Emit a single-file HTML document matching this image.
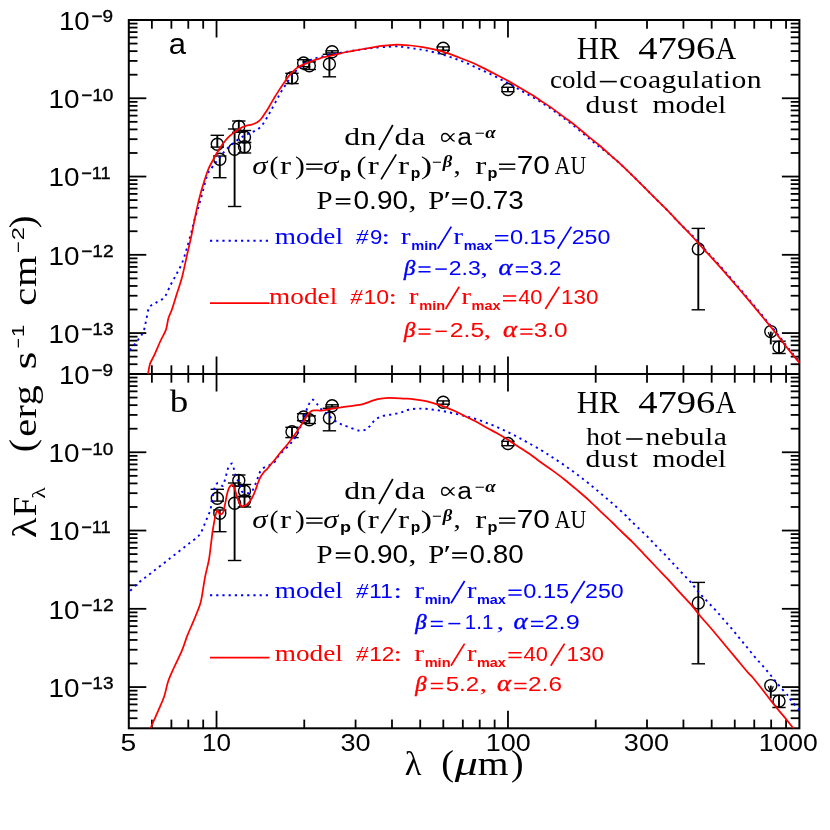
<!DOCTYPE html>
<html><head><meta charset="utf-8"><title>HR 4796A SED</title>
<style>
html,body{margin:0;padding:0;background:#fff;}
body{width:830px;height:830px;overflow:hidden;}
svg{display:block;will-change:transform;}
text{font-family:"Liberation Serif",serif;}
.s{font-family:"Liberation Sans",sans-serif;}
.i{font-style:italic;}
.m{font-family:"Liberation Mono",monospace;}
.b{fill:#0000ff;}
.r{fill:#ff0000;}
</style></head><body>
<svg width="830" height="830" viewBox="0 0 830 830">
<rect width="830" height="830" fill="#fff"/>
<g fill="none" stroke-linecap="butt">
<clipPath id="ca"><rect x="128.8" y="20.0" width="670.6" height="354.0"/></clipPath>
<clipPath id="cb"><rect x="128.8" y="374.0" width="670.6" height="354.3"/></clipPath>
<rect x="128.8" y="20.0" width="670.6" height="708.3" stroke="#000" stroke-width="2"/>
<line x1="128.80" y1="374.00" x2="799.40" y2="374.00" stroke="#000" stroke-width="2.00"/>
<line x1="151.88" y1="20.00" x2="151.88" y2="28.70" stroke="#000" stroke-width="1.80"/>
<line x1="151.88" y1="365.30" x2="151.88" y2="382.70" stroke="#000" stroke-width="1.80"/>
<line x1="151.88" y1="719.60" x2="151.88" y2="728.30" stroke="#000" stroke-width="1.80"/>
<line x1="171.39" y1="20.00" x2="171.39" y2="28.70" stroke="#000" stroke-width="1.80"/>
<line x1="171.39" y1="365.30" x2="171.39" y2="382.70" stroke="#000" stroke-width="1.80"/>
<line x1="171.39" y1="719.60" x2="171.39" y2="728.30" stroke="#000" stroke-width="1.80"/>
<line x1="188.29" y1="20.00" x2="188.29" y2="28.70" stroke="#000" stroke-width="1.80"/>
<line x1="188.29" y1="365.30" x2="188.29" y2="382.70" stroke="#000" stroke-width="1.80"/>
<line x1="188.29" y1="719.60" x2="188.29" y2="728.30" stroke="#000" stroke-width="1.80"/>
<line x1="203.20" y1="20.00" x2="203.20" y2="28.70" stroke="#000" stroke-width="1.80"/>
<line x1="203.20" y1="365.30" x2="203.20" y2="382.70" stroke="#000" stroke-width="1.80"/>
<line x1="203.20" y1="719.60" x2="203.20" y2="728.30" stroke="#000" stroke-width="1.80"/>
<line x1="216.53" y1="20.00" x2="216.53" y2="37.50" stroke="#000" stroke-width="1.80"/>
<line x1="216.53" y1="356.50" x2="216.53" y2="391.50" stroke="#000" stroke-width="1.80"/>
<line x1="216.53" y1="710.80" x2="216.53" y2="728.30" stroke="#000" stroke-width="1.80"/>
<line x1="304.26" y1="20.00" x2="304.26" y2="28.70" stroke="#000" stroke-width="1.80"/>
<line x1="304.26" y1="365.30" x2="304.26" y2="382.70" stroke="#000" stroke-width="1.80"/>
<line x1="304.26" y1="719.60" x2="304.26" y2="728.30" stroke="#000" stroke-width="1.80"/>
<line x1="355.58" y1="20.00" x2="355.58" y2="28.70" stroke="#000" stroke-width="1.80"/>
<line x1="355.58" y1="365.30" x2="355.58" y2="382.70" stroke="#000" stroke-width="1.80"/>
<line x1="355.58" y1="719.60" x2="355.58" y2="728.30" stroke="#000" stroke-width="1.80"/>
<line x1="391.99" y1="20.00" x2="391.99" y2="28.70" stroke="#000" stroke-width="1.80"/>
<line x1="391.99" y1="365.30" x2="391.99" y2="382.70" stroke="#000" stroke-width="1.80"/>
<line x1="391.99" y1="719.60" x2="391.99" y2="728.30" stroke="#000" stroke-width="1.80"/>
<line x1="420.23" y1="20.00" x2="420.23" y2="28.70" stroke="#000" stroke-width="1.80"/>
<line x1="420.23" y1="365.30" x2="420.23" y2="382.70" stroke="#000" stroke-width="1.80"/>
<line x1="420.23" y1="719.60" x2="420.23" y2="728.30" stroke="#000" stroke-width="1.80"/>
<line x1="443.31" y1="20.00" x2="443.31" y2="28.70" stroke="#000" stroke-width="1.80"/>
<line x1="443.31" y1="365.30" x2="443.31" y2="382.70" stroke="#000" stroke-width="1.80"/>
<line x1="443.31" y1="719.60" x2="443.31" y2="728.30" stroke="#000" stroke-width="1.80"/>
<line x1="462.82" y1="20.00" x2="462.82" y2="28.70" stroke="#000" stroke-width="1.80"/>
<line x1="462.82" y1="365.30" x2="462.82" y2="382.70" stroke="#000" stroke-width="1.80"/>
<line x1="462.82" y1="719.60" x2="462.82" y2="728.30" stroke="#000" stroke-width="1.80"/>
<line x1="479.72" y1="20.00" x2="479.72" y2="28.70" stroke="#000" stroke-width="1.80"/>
<line x1="479.72" y1="365.30" x2="479.72" y2="382.70" stroke="#000" stroke-width="1.80"/>
<line x1="479.72" y1="719.60" x2="479.72" y2="728.30" stroke="#000" stroke-width="1.80"/>
<line x1="494.63" y1="20.00" x2="494.63" y2="28.70" stroke="#000" stroke-width="1.80"/>
<line x1="494.63" y1="365.30" x2="494.63" y2="382.70" stroke="#000" stroke-width="1.80"/>
<line x1="494.63" y1="719.60" x2="494.63" y2="728.30" stroke="#000" stroke-width="1.80"/>
<line x1="507.97" y1="20.00" x2="507.97" y2="37.50" stroke="#000" stroke-width="1.80"/>
<line x1="507.97" y1="356.50" x2="507.97" y2="391.50" stroke="#000" stroke-width="1.80"/>
<line x1="507.97" y1="710.80" x2="507.97" y2="728.30" stroke="#000" stroke-width="1.80"/>
<line x1="595.70" y1="20.00" x2="595.70" y2="28.70" stroke="#000" stroke-width="1.80"/>
<line x1="595.70" y1="365.30" x2="595.70" y2="382.70" stroke="#000" stroke-width="1.80"/>
<line x1="595.70" y1="719.60" x2="595.70" y2="728.30" stroke="#000" stroke-width="1.80"/>
<line x1="647.01" y1="20.00" x2="647.01" y2="28.70" stroke="#000" stroke-width="1.80"/>
<line x1="647.01" y1="365.30" x2="647.01" y2="382.70" stroke="#000" stroke-width="1.80"/>
<line x1="647.01" y1="719.60" x2="647.01" y2="728.30" stroke="#000" stroke-width="1.80"/>
<line x1="683.43" y1="20.00" x2="683.43" y2="28.70" stroke="#000" stroke-width="1.80"/>
<line x1="683.43" y1="365.30" x2="683.43" y2="382.70" stroke="#000" stroke-width="1.80"/>
<line x1="683.43" y1="719.60" x2="683.43" y2="728.30" stroke="#000" stroke-width="1.80"/>
<line x1="711.67" y1="20.00" x2="711.67" y2="28.70" stroke="#000" stroke-width="1.80"/>
<line x1="711.67" y1="365.30" x2="711.67" y2="382.70" stroke="#000" stroke-width="1.80"/>
<line x1="711.67" y1="719.60" x2="711.67" y2="728.30" stroke="#000" stroke-width="1.80"/>
<line x1="734.75" y1="20.00" x2="734.75" y2="28.70" stroke="#000" stroke-width="1.80"/>
<line x1="734.75" y1="365.30" x2="734.75" y2="382.70" stroke="#000" stroke-width="1.80"/>
<line x1="734.75" y1="719.60" x2="734.75" y2="728.30" stroke="#000" stroke-width="1.80"/>
<line x1="754.26" y1="20.00" x2="754.26" y2="28.70" stroke="#000" stroke-width="1.80"/>
<line x1="754.26" y1="365.30" x2="754.26" y2="382.70" stroke="#000" stroke-width="1.80"/>
<line x1="754.26" y1="719.60" x2="754.26" y2="728.30" stroke="#000" stroke-width="1.80"/>
<line x1="771.16" y1="20.00" x2="771.16" y2="28.70" stroke="#000" stroke-width="1.80"/>
<line x1="771.16" y1="365.30" x2="771.16" y2="382.70" stroke="#000" stroke-width="1.80"/>
<line x1="771.16" y1="719.60" x2="771.16" y2="728.30" stroke="#000" stroke-width="1.80"/>
<line x1="786.06" y1="20.00" x2="786.06" y2="28.70" stroke="#000" stroke-width="1.80"/>
<line x1="786.06" y1="365.30" x2="786.06" y2="382.70" stroke="#000" stroke-width="1.80"/>
<line x1="786.06" y1="719.60" x2="786.06" y2="728.30" stroke="#000" stroke-width="1.80"/>
<line x1="128.80" y1="364.22" x2="137.50" y2="364.22" stroke="#000" stroke-width="1.80"/>
<line x1="790.70" y1="364.22" x2="799.40" y2="364.22" stroke="#000" stroke-width="1.80"/>
<line x1="128.80" y1="356.64" x2="137.50" y2="356.64" stroke="#000" stroke-width="1.80"/>
<line x1="790.70" y1="356.64" x2="799.40" y2="356.64" stroke="#000" stroke-width="1.80"/>
<line x1="128.80" y1="350.44" x2="137.50" y2="350.44" stroke="#000" stroke-width="1.80"/>
<line x1="790.70" y1="350.44" x2="799.40" y2="350.44" stroke="#000" stroke-width="1.80"/>
<line x1="128.80" y1="345.20" x2="137.50" y2="345.20" stroke="#000" stroke-width="1.80"/>
<line x1="790.70" y1="345.20" x2="799.40" y2="345.20" stroke="#000" stroke-width="1.80"/>
<line x1="128.80" y1="340.66" x2="137.50" y2="340.66" stroke="#000" stroke-width="1.80"/>
<line x1="790.70" y1="340.66" x2="799.40" y2="340.66" stroke="#000" stroke-width="1.80"/>
<line x1="128.80" y1="336.66" x2="137.50" y2="336.66" stroke="#000" stroke-width="1.80"/>
<line x1="790.70" y1="336.66" x2="799.40" y2="336.66" stroke="#000" stroke-width="1.80"/>
<line x1="128.80" y1="333.07" x2="146.30" y2="333.07" stroke="#000" stroke-width="1.80"/>
<line x1="781.90" y1="333.07" x2="799.40" y2="333.07" stroke="#000" stroke-width="1.80"/>
<line x1="128.80" y1="309.51" x2="137.50" y2="309.51" stroke="#000" stroke-width="1.80"/>
<line x1="790.70" y1="309.51" x2="799.40" y2="309.51" stroke="#000" stroke-width="1.80"/>
<line x1="128.80" y1="295.73" x2="137.50" y2="295.73" stroke="#000" stroke-width="1.80"/>
<line x1="790.70" y1="295.73" x2="799.40" y2="295.73" stroke="#000" stroke-width="1.80"/>
<line x1="128.80" y1="285.95" x2="137.50" y2="285.95" stroke="#000" stroke-width="1.80"/>
<line x1="790.70" y1="285.95" x2="799.40" y2="285.95" stroke="#000" stroke-width="1.80"/>
<line x1="128.80" y1="278.37" x2="137.50" y2="278.37" stroke="#000" stroke-width="1.80"/>
<line x1="790.70" y1="278.37" x2="799.40" y2="278.37" stroke="#000" stroke-width="1.80"/>
<line x1="128.80" y1="272.17" x2="137.50" y2="272.17" stroke="#000" stroke-width="1.80"/>
<line x1="790.70" y1="272.17" x2="799.40" y2="272.17" stroke="#000" stroke-width="1.80"/>
<line x1="128.80" y1="266.93" x2="137.50" y2="266.93" stroke="#000" stroke-width="1.80"/>
<line x1="790.70" y1="266.93" x2="799.40" y2="266.93" stroke="#000" stroke-width="1.80"/>
<line x1="128.80" y1="262.39" x2="137.50" y2="262.39" stroke="#000" stroke-width="1.80"/>
<line x1="790.70" y1="262.39" x2="799.40" y2="262.39" stroke="#000" stroke-width="1.80"/>
<line x1="128.80" y1="258.39" x2="137.50" y2="258.39" stroke="#000" stroke-width="1.80"/>
<line x1="790.70" y1="258.39" x2="799.40" y2="258.39" stroke="#000" stroke-width="1.80"/>
<line x1="128.80" y1="254.81" x2="146.30" y2="254.81" stroke="#000" stroke-width="1.80"/>
<line x1="781.90" y1="254.81" x2="799.40" y2="254.81" stroke="#000" stroke-width="1.80"/>
<line x1="128.80" y1="231.24" x2="137.50" y2="231.24" stroke="#000" stroke-width="1.80"/>
<line x1="790.70" y1="231.24" x2="799.40" y2="231.24" stroke="#000" stroke-width="1.80"/>
<line x1="128.80" y1="217.46" x2="137.50" y2="217.46" stroke="#000" stroke-width="1.80"/>
<line x1="790.70" y1="217.46" x2="799.40" y2="217.46" stroke="#000" stroke-width="1.80"/>
<line x1="128.80" y1="207.68" x2="137.50" y2="207.68" stroke="#000" stroke-width="1.80"/>
<line x1="790.70" y1="207.68" x2="799.40" y2="207.68" stroke="#000" stroke-width="1.80"/>
<line x1="128.80" y1="200.10" x2="137.50" y2="200.10" stroke="#000" stroke-width="1.80"/>
<line x1="790.70" y1="200.10" x2="799.40" y2="200.10" stroke="#000" stroke-width="1.80"/>
<line x1="128.80" y1="193.90" x2="137.50" y2="193.90" stroke="#000" stroke-width="1.80"/>
<line x1="790.70" y1="193.90" x2="799.40" y2="193.90" stroke="#000" stroke-width="1.80"/>
<line x1="128.80" y1="188.66" x2="137.50" y2="188.66" stroke="#000" stroke-width="1.80"/>
<line x1="790.70" y1="188.66" x2="799.40" y2="188.66" stroke="#000" stroke-width="1.80"/>
<line x1="128.80" y1="184.12" x2="137.50" y2="184.12" stroke="#000" stroke-width="1.80"/>
<line x1="790.70" y1="184.12" x2="799.40" y2="184.12" stroke="#000" stroke-width="1.80"/>
<line x1="128.80" y1="180.12" x2="137.50" y2="180.12" stroke="#000" stroke-width="1.80"/>
<line x1="790.70" y1="180.12" x2="799.40" y2="180.12" stroke="#000" stroke-width="1.80"/>
<line x1="128.80" y1="176.54" x2="146.30" y2="176.54" stroke="#000" stroke-width="1.80"/>
<line x1="781.90" y1="176.54" x2="799.40" y2="176.54" stroke="#000" stroke-width="1.80"/>
<line x1="128.80" y1="152.98" x2="137.50" y2="152.98" stroke="#000" stroke-width="1.80"/>
<line x1="790.70" y1="152.98" x2="799.40" y2="152.98" stroke="#000" stroke-width="1.80"/>
<line x1="128.80" y1="139.19" x2="137.50" y2="139.19" stroke="#000" stroke-width="1.80"/>
<line x1="790.70" y1="139.19" x2="799.40" y2="139.19" stroke="#000" stroke-width="1.80"/>
<line x1="128.80" y1="129.41" x2="137.50" y2="129.41" stroke="#000" stroke-width="1.80"/>
<line x1="790.70" y1="129.41" x2="799.40" y2="129.41" stroke="#000" stroke-width="1.80"/>
<line x1="128.80" y1="121.83" x2="137.50" y2="121.83" stroke="#000" stroke-width="1.80"/>
<line x1="790.70" y1="121.83" x2="799.40" y2="121.83" stroke="#000" stroke-width="1.80"/>
<line x1="128.80" y1="115.63" x2="137.50" y2="115.63" stroke="#000" stroke-width="1.80"/>
<line x1="790.70" y1="115.63" x2="799.40" y2="115.63" stroke="#000" stroke-width="1.80"/>
<line x1="128.80" y1="110.39" x2="137.50" y2="110.39" stroke="#000" stroke-width="1.80"/>
<line x1="790.70" y1="110.39" x2="799.40" y2="110.39" stroke="#000" stroke-width="1.80"/>
<line x1="128.80" y1="105.85" x2="137.50" y2="105.85" stroke="#000" stroke-width="1.80"/>
<line x1="790.70" y1="105.85" x2="799.40" y2="105.85" stroke="#000" stroke-width="1.80"/>
<line x1="128.80" y1="101.85" x2="137.50" y2="101.85" stroke="#000" stroke-width="1.80"/>
<line x1="790.70" y1="101.85" x2="799.40" y2="101.85" stroke="#000" stroke-width="1.80"/>
<line x1="128.80" y1="98.27" x2="146.30" y2="98.27" stroke="#000" stroke-width="1.80"/>
<line x1="781.90" y1="98.27" x2="799.40" y2="98.27" stroke="#000" stroke-width="1.80"/>
<line x1="128.80" y1="74.71" x2="137.50" y2="74.71" stroke="#000" stroke-width="1.80"/>
<line x1="790.70" y1="74.71" x2="799.40" y2="74.71" stroke="#000" stroke-width="1.80"/>
<line x1="128.80" y1="60.93" x2="137.50" y2="60.93" stroke="#000" stroke-width="1.80"/>
<line x1="790.70" y1="60.93" x2="799.40" y2="60.93" stroke="#000" stroke-width="1.80"/>
<line x1="128.80" y1="51.15" x2="137.50" y2="51.15" stroke="#000" stroke-width="1.80"/>
<line x1="790.70" y1="51.15" x2="799.40" y2="51.15" stroke="#000" stroke-width="1.80"/>
<line x1="128.80" y1="43.56" x2="137.50" y2="43.56" stroke="#000" stroke-width="1.80"/>
<line x1="790.70" y1="43.56" x2="799.40" y2="43.56" stroke="#000" stroke-width="1.80"/>
<line x1="128.80" y1="37.36" x2="137.50" y2="37.36" stroke="#000" stroke-width="1.80"/>
<line x1="790.70" y1="37.36" x2="799.40" y2="37.36" stroke="#000" stroke-width="1.80"/>
<line x1="128.80" y1="32.12" x2="137.50" y2="32.12" stroke="#000" stroke-width="1.80"/>
<line x1="790.70" y1="32.12" x2="799.40" y2="32.12" stroke="#000" stroke-width="1.80"/>
<line x1="128.80" y1="27.59" x2="137.50" y2="27.59" stroke="#000" stroke-width="1.80"/>
<line x1="790.70" y1="27.59" x2="799.40" y2="27.59" stroke="#000" stroke-width="1.80"/>
<line x1="128.80" y1="23.58" x2="137.50" y2="23.58" stroke="#000" stroke-width="1.80"/>
<line x1="790.70" y1="23.58" x2="799.40" y2="23.58" stroke="#000" stroke-width="1.80"/>
<line x1="128.80" y1="718.22" x2="137.50" y2="718.22" stroke="#000" stroke-width="1.80"/>
<line x1="790.70" y1="718.22" x2="799.40" y2="718.22" stroke="#000" stroke-width="1.80"/>
<line x1="128.80" y1="710.64" x2="137.50" y2="710.64" stroke="#000" stroke-width="1.80"/>
<line x1="790.70" y1="710.64" x2="799.40" y2="710.64" stroke="#000" stroke-width="1.80"/>
<line x1="128.80" y1="704.44" x2="137.50" y2="704.44" stroke="#000" stroke-width="1.80"/>
<line x1="790.70" y1="704.44" x2="799.40" y2="704.44" stroke="#000" stroke-width="1.80"/>
<line x1="128.80" y1="699.20" x2="137.50" y2="699.20" stroke="#000" stroke-width="1.80"/>
<line x1="790.70" y1="699.20" x2="799.40" y2="699.20" stroke="#000" stroke-width="1.80"/>
<line x1="128.80" y1="694.66" x2="137.50" y2="694.66" stroke="#000" stroke-width="1.80"/>
<line x1="790.70" y1="694.66" x2="799.40" y2="694.66" stroke="#000" stroke-width="1.80"/>
<line x1="128.80" y1="690.66" x2="137.50" y2="690.66" stroke="#000" stroke-width="1.80"/>
<line x1="790.70" y1="690.66" x2="799.40" y2="690.66" stroke="#000" stroke-width="1.80"/>
<line x1="128.80" y1="687.07" x2="146.30" y2="687.07" stroke="#000" stroke-width="1.80"/>
<line x1="781.90" y1="687.07" x2="799.40" y2="687.07" stroke="#000" stroke-width="1.80"/>
<line x1="128.80" y1="663.51" x2="137.50" y2="663.51" stroke="#000" stroke-width="1.80"/>
<line x1="790.70" y1="663.51" x2="799.40" y2="663.51" stroke="#000" stroke-width="1.80"/>
<line x1="128.80" y1="649.73" x2="137.50" y2="649.73" stroke="#000" stroke-width="1.80"/>
<line x1="790.70" y1="649.73" x2="799.40" y2="649.73" stroke="#000" stroke-width="1.80"/>
<line x1="128.80" y1="639.95" x2="137.50" y2="639.95" stroke="#000" stroke-width="1.80"/>
<line x1="790.70" y1="639.95" x2="799.40" y2="639.95" stroke="#000" stroke-width="1.80"/>
<line x1="128.80" y1="632.37" x2="137.50" y2="632.37" stroke="#000" stroke-width="1.80"/>
<line x1="790.70" y1="632.37" x2="799.40" y2="632.37" stroke="#000" stroke-width="1.80"/>
<line x1="128.80" y1="626.17" x2="137.50" y2="626.17" stroke="#000" stroke-width="1.80"/>
<line x1="790.70" y1="626.17" x2="799.40" y2="626.17" stroke="#000" stroke-width="1.80"/>
<line x1="128.80" y1="620.93" x2="137.50" y2="620.93" stroke="#000" stroke-width="1.80"/>
<line x1="790.70" y1="620.93" x2="799.40" y2="620.93" stroke="#000" stroke-width="1.80"/>
<line x1="128.80" y1="616.39" x2="137.50" y2="616.39" stroke="#000" stroke-width="1.80"/>
<line x1="790.70" y1="616.39" x2="799.40" y2="616.39" stroke="#000" stroke-width="1.80"/>
<line x1="128.80" y1="612.39" x2="137.50" y2="612.39" stroke="#000" stroke-width="1.80"/>
<line x1="790.70" y1="612.39" x2="799.40" y2="612.39" stroke="#000" stroke-width="1.80"/>
<line x1="128.80" y1="608.81" x2="146.30" y2="608.81" stroke="#000" stroke-width="1.80"/>
<line x1="781.90" y1="608.81" x2="799.40" y2="608.81" stroke="#000" stroke-width="1.80"/>
<line x1="128.80" y1="585.24" x2="137.50" y2="585.24" stroke="#000" stroke-width="1.80"/>
<line x1="790.70" y1="585.24" x2="799.40" y2="585.24" stroke="#000" stroke-width="1.80"/>
<line x1="128.80" y1="571.46" x2="137.50" y2="571.46" stroke="#000" stroke-width="1.80"/>
<line x1="790.70" y1="571.46" x2="799.40" y2="571.46" stroke="#000" stroke-width="1.80"/>
<line x1="128.80" y1="561.68" x2="137.50" y2="561.68" stroke="#000" stroke-width="1.80"/>
<line x1="790.70" y1="561.68" x2="799.40" y2="561.68" stroke="#000" stroke-width="1.80"/>
<line x1="128.80" y1="554.10" x2="137.50" y2="554.10" stroke="#000" stroke-width="1.80"/>
<line x1="790.70" y1="554.10" x2="799.40" y2="554.10" stroke="#000" stroke-width="1.80"/>
<line x1="128.80" y1="547.90" x2="137.50" y2="547.90" stroke="#000" stroke-width="1.80"/>
<line x1="790.70" y1="547.90" x2="799.40" y2="547.90" stroke="#000" stroke-width="1.80"/>
<line x1="128.80" y1="542.66" x2="137.50" y2="542.66" stroke="#000" stroke-width="1.80"/>
<line x1="790.70" y1="542.66" x2="799.40" y2="542.66" stroke="#000" stroke-width="1.80"/>
<line x1="128.80" y1="538.12" x2="137.50" y2="538.12" stroke="#000" stroke-width="1.80"/>
<line x1="790.70" y1="538.12" x2="799.40" y2="538.12" stroke="#000" stroke-width="1.80"/>
<line x1="128.80" y1="534.12" x2="137.50" y2="534.12" stroke="#000" stroke-width="1.80"/>
<line x1="790.70" y1="534.12" x2="799.40" y2="534.12" stroke="#000" stroke-width="1.80"/>
<line x1="128.80" y1="530.54" x2="146.30" y2="530.54" stroke="#000" stroke-width="1.80"/>
<line x1="781.90" y1="530.54" x2="799.40" y2="530.54" stroke="#000" stroke-width="1.80"/>
<line x1="128.80" y1="506.98" x2="137.50" y2="506.98" stroke="#000" stroke-width="1.80"/>
<line x1="790.70" y1="506.98" x2="799.40" y2="506.98" stroke="#000" stroke-width="1.80"/>
<line x1="128.80" y1="493.19" x2="137.50" y2="493.19" stroke="#000" stroke-width="1.80"/>
<line x1="790.70" y1="493.19" x2="799.40" y2="493.19" stroke="#000" stroke-width="1.80"/>
<line x1="128.80" y1="483.41" x2="137.50" y2="483.41" stroke="#000" stroke-width="1.80"/>
<line x1="790.70" y1="483.41" x2="799.40" y2="483.41" stroke="#000" stroke-width="1.80"/>
<line x1="128.80" y1="475.83" x2="137.50" y2="475.83" stroke="#000" stroke-width="1.80"/>
<line x1="790.70" y1="475.83" x2="799.40" y2="475.83" stroke="#000" stroke-width="1.80"/>
<line x1="128.80" y1="469.63" x2="137.50" y2="469.63" stroke="#000" stroke-width="1.80"/>
<line x1="790.70" y1="469.63" x2="799.40" y2="469.63" stroke="#000" stroke-width="1.80"/>
<line x1="128.80" y1="464.39" x2="137.50" y2="464.39" stroke="#000" stroke-width="1.80"/>
<line x1="790.70" y1="464.39" x2="799.40" y2="464.39" stroke="#000" stroke-width="1.80"/>
<line x1="128.80" y1="459.85" x2="137.50" y2="459.85" stroke="#000" stroke-width="1.80"/>
<line x1="790.70" y1="459.85" x2="799.40" y2="459.85" stroke="#000" stroke-width="1.80"/>
<line x1="128.80" y1="455.85" x2="137.50" y2="455.85" stroke="#000" stroke-width="1.80"/>
<line x1="790.70" y1="455.85" x2="799.40" y2="455.85" stroke="#000" stroke-width="1.80"/>
<line x1="128.80" y1="452.27" x2="146.30" y2="452.27" stroke="#000" stroke-width="1.80"/>
<line x1="781.90" y1="452.27" x2="799.40" y2="452.27" stroke="#000" stroke-width="1.80"/>
<line x1="128.80" y1="428.71" x2="137.50" y2="428.71" stroke="#000" stroke-width="1.80"/>
<line x1="790.70" y1="428.71" x2="799.40" y2="428.71" stroke="#000" stroke-width="1.80"/>
<line x1="128.80" y1="414.93" x2="137.50" y2="414.93" stroke="#000" stroke-width="1.80"/>
<line x1="790.70" y1="414.93" x2="799.40" y2="414.93" stroke="#000" stroke-width="1.80"/>
<line x1="128.80" y1="405.15" x2="137.50" y2="405.15" stroke="#000" stroke-width="1.80"/>
<line x1="790.70" y1="405.15" x2="799.40" y2="405.15" stroke="#000" stroke-width="1.80"/>
<line x1="128.80" y1="397.56" x2="137.50" y2="397.56" stroke="#000" stroke-width="1.80"/>
<line x1="790.70" y1="397.56" x2="799.40" y2="397.56" stroke="#000" stroke-width="1.80"/>
<line x1="128.80" y1="391.36" x2="137.50" y2="391.36" stroke="#000" stroke-width="1.80"/>
<line x1="790.70" y1="391.36" x2="799.40" y2="391.36" stroke="#000" stroke-width="1.80"/>
<line x1="128.80" y1="386.12" x2="137.50" y2="386.12" stroke="#000" stroke-width="1.80"/>
<line x1="790.70" y1="386.12" x2="799.40" y2="386.12" stroke="#000" stroke-width="1.80"/>
<line x1="128.80" y1="381.59" x2="137.50" y2="381.59" stroke="#000" stroke-width="1.80"/>
<line x1="790.70" y1="381.59" x2="799.40" y2="381.59" stroke="#000" stroke-width="1.80"/>
<line x1="128.80" y1="377.58" x2="137.50" y2="377.58" stroke="#000" stroke-width="1.80"/>
<line x1="790.70" y1="377.58" x2="799.40" y2="377.58" stroke="#000" stroke-width="1.80"/>
<circle cx="217.3" cy="144.2" r="6.0" stroke="#000" stroke-width="1.4"/>
<line x1="217.30" y1="135.30" x2="217.30" y2="147.10" stroke="#000" stroke-width="1.90"/>
<line x1="210.60" y1="135.30" x2="224.00" y2="135.30" stroke="#000" stroke-width="1.40"/>
<line x1="210.60" y1="147.10" x2="224.00" y2="147.10" stroke="#000" stroke-width="1.40"/>
<circle cx="219.8" cy="159.3" r="6.0" stroke="#000" stroke-width="1.4"/>
<line x1="219.80" y1="156.00" x2="219.80" y2="177.70" stroke="#000" stroke-width="1.90"/>
<line x1="213.10" y1="156.00" x2="226.50" y2="156.00" stroke="#000" stroke-width="1.40"/>
<line x1="213.10" y1="177.70" x2="226.50" y2="177.70" stroke="#000" stroke-width="1.40"/>
<circle cx="234.6" cy="149.2" r="6.0" stroke="#000" stroke-width="1.4"/>
<line x1="234.60" y1="129.00" x2="234.60" y2="206.50" stroke="#000" stroke-width="1.90"/>
<line x1="227.90" y1="129.00" x2="241.30" y2="129.00" stroke="#000" stroke-width="1.40"/>
<line x1="227.90" y1="206.50" x2="241.30" y2="206.50" stroke="#000" stroke-width="1.40"/>
<circle cx="238.8" cy="126.4" r="6.0" stroke="#000" stroke-width="1.4"/>
<line x1="238.80" y1="121.00" x2="238.80" y2="132.30" stroke="#000" stroke-width="1.90"/>
<line x1="232.10" y1="121.00" x2="245.50" y2="121.00" stroke="#000" stroke-width="1.40"/>
<line x1="232.10" y1="132.30" x2="245.50" y2="132.30" stroke="#000" stroke-width="1.40"/>
<circle cx="244.5" cy="137.0" r="6.0" stroke="#000" stroke-width="1.4"/>
<line x1="244.50" y1="130.50" x2="244.50" y2="142.50" stroke="#000" stroke-width="1.90"/>
<line x1="237.80" y1="130.50" x2="251.20" y2="130.50" stroke="#000" stroke-width="1.40"/>
<line x1="237.80" y1="142.50" x2="251.20" y2="142.50" stroke="#000" stroke-width="1.40"/>
<circle cx="244.5" cy="146.7" r="6.0" stroke="#000" stroke-width="1.4"/>
<line x1="244.50" y1="142.50" x2="244.50" y2="153.00" stroke="#000" stroke-width="1.90"/>
<line x1="237.80" y1="142.50" x2="251.20" y2="142.50" stroke="#000" stroke-width="1.40"/>
<line x1="237.80" y1="153.00" x2="251.20" y2="153.00" stroke="#000" stroke-width="1.40"/>
<circle cx="292.0" cy="77.8" r="6.0" stroke="#000" stroke-width="1.4"/>
<line x1="292.00" y1="73.30" x2="292.00" y2="83.60" stroke="#000" stroke-width="1.90"/>
<line x1="285.30" y1="73.30" x2="298.70" y2="73.30" stroke="#000" stroke-width="1.40"/>
<line x1="285.30" y1="83.60" x2="298.70" y2="83.60" stroke="#000" stroke-width="1.40"/>
<circle cx="303.6" cy="63.0" r="6.0" stroke="#000" stroke-width="1.4"/>
<line x1="303.60" y1="59.70" x2="303.60" y2="66.70" stroke="#000" stroke-width="1.90"/>
<line x1="296.90" y1="59.70" x2="310.30" y2="59.70" stroke="#000" stroke-width="1.40"/>
<line x1="296.90" y1="66.70" x2="310.30" y2="66.70" stroke="#000" stroke-width="1.40"/>
<circle cx="309.3" cy="65.7" r="6.0" stroke="#000" stroke-width="1.4"/>
<line x1="309.30" y1="61.90" x2="309.30" y2="69.50" stroke="#000" stroke-width="1.90"/>
<line x1="302.60" y1="61.90" x2="316.00" y2="61.90" stroke="#000" stroke-width="1.40"/>
<line x1="302.60" y1="69.50" x2="316.00" y2="69.50" stroke="#000" stroke-width="1.40"/>
<circle cx="332.1" cy="51.7" r="6.0" stroke="#000" stroke-width="1.4"/>
<line x1="332.10" y1="50.80" x2="332.10" y2="52.90" stroke="#000" stroke-width="1.90"/>
<line x1="325.40" y1="50.80" x2="338.80" y2="50.80" stroke="#000" stroke-width="1.40"/>
<line x1="325.40" y1="52.90" x2="338.80" y2="52.90" stroke="#000" stroke-width="1.40"/>
<circle cx="329.4" cy="64.0" r="6.0" stroke="#000" stroke-width="1.4"/>
<line x1="329.40" y1="54.30" x2="329.40" y2="76.80" stroke="#000" stroke-width="1.90"/>
<line x1="322.70" y1="54.30" x2="336.10" y2="54.30" stroke="#000" stroke-width="1.40"/>
<line x1="322.70" y1="76.80" x2="336.10" y2="76.80" stroke="#000" stroke-width="1.40"/>
<circle cx="443.2" cy="48.2" r="6.0" stroke="#000" stroke-width="1.4"/>
<line x1="443.20" y1="46.90" x2="443.20" y2="50.20" stroke="#000" stroke-width="1.90"/>
<line x1="436.50" y1="46.90" x2="449.90" y2="46.90" stroke="#000" stroke-width="1.40"/>
<line x1="436.50" y1="50.20" x2="449.90" y2="50.20" stroke="#000" stroke-width="1.40"/>
<circle cx="507.9" cy="89.5" r="6.0" stroke="#000" stroke-width="1.4"/>
<line x1="507.90" y1="87.30" x2="507.90" y2="91.70" stroke="#000" stroke-width="1.90"/>
<line x1="501.20" y1="87.30" x2="514.60" y2="87.30" stroke="#000" stroke-width="1.40"/>
<line x1="501.20" y1="91.70" x2="514.60" y2="91.70" stroke="#000" stroke-width="1.40"/>
<circle cx="698.3" cy="248.9" r="6.0" stroke="#000" stroke-width="1.4"/>
<line x1="698.30" y1="228.40" x2="698.30" y2="309.80" stroke="#000" stroke-width="1.90"/>
<line x1="691.60" y1="228.40" x2="705.00" y2="228.40" stroke="#000" stroke-width="1.40"/>
<line x1="691.60" y1="309.80" x2="705.00" y2="309.80" stroke="#000" stroke-width="1.40"/>
<circle cx="770.8" cy="331.6" r="6.0" stroke="#000" stroke-width="1.4"/>
<circle cx="779.0" cy="347.1" r="6.0" stroke="#000" stroke-width="1.4"/>
<line x1="779.00" y1="341.20" x2="779.00" y2="353.50" stroke="#000" stroke-width="1.90"/>
<line x1="772.30" y1="341.20" x2="785.70" y2="341.20" stroke="#000" stroke-width="1.40"/>
<line x1="772.30" y1="353.50" x2="785.70" y2="353.50" stroke="#000" stroke-width="1.40"/>
<line x1="770.80" y1="331.60" x2="770.80" y2="344.40" stroke="#000" stroke-width="1.90"/>
<line x1="770.80" y1="338.60" x2="768.30" y2="332.20" stroke="#000" stroke-width="1.20"/>
<line x1="770.80" y1="338.60" x2="773.30" y2="332.20" stroke="#000" stroke-width="1.20"/>
<circle cx="217.3" cy="498.2" r="6.0" stroke="#000" stroke-width="1.4"/>
<line x1="217.30" y1="489.30" x2="217.30" y2="501.10" stroke="#000" stroke-width="1.90"/>
<line x1="210.60" y1="489.30" x2="224.00" y2="489.30" stroke="#000" stroke-width="1.40"/>
<line x1="210.60" y1="501.10" x2="224.00" y2="501.10" stroke="#000" stroke-width="1.40"/>
<circle cx="219.8" cy="513.3" r="6.0" stroke="#000" stroke-width="1.4"/>
<line x1="219.80" y1="510.00" x2="219.80" y2="531.70" stroke="#000" stroke-width="1.90"/>
<line x1="213.10" y1="510.00" x2="226.50" y2="510.00" stroke="#000" stroke-width="1.40"/>
<line x1="213.10" y1="531.70" x2="226.50" y2="531.70" stroke="#000" stroke-width="1.40"/>
<circle cx="234.6" cy="503.2" r="6.0" stroke="#000" stroke-width="1.4"/>
<line x1="234.60" y1="483.00" x2="234.60" y2="560.50" stroke="#000" stroke-width="1.90"/>
<line x1="227.90" y1="483.00" x2="241.30" y2="483.00" stroke="#000" stroke-width="1.40"/>
<line x1="227.90" y1="560.50" x2="241.30" y2="560.50" stroke="#000" stroke-width="1.40"/>
<circle cx="238.8" cy="480.4" r="6.0" stroke="#000" stroke-width="1.4"/>
<line x1="238.80" y1="475.00" x2="238.80" y2="486.30" stroke="#000" stroke-width="1.90"/>
<line x1="232.10" y1="475.00" x2="245.50" y2="475.00" stroke="#000" stroke-width="1.40"/>
<line x1="232.10" y1="486.30" x2="245.50" y2="486.30" stroke="#000" stroke-width="1.40"/>
<circle cx="244.5" cy="491.0" r="6.0" stroke="#000" stroke-width="1.4"/>
<line x1="244.50" y1="484.50" x2="244.50" y2="496.50" stroke="#000" stroke-width="1.90"/>
<line x1="237.80" y1="484.50" x2="251.20" y2="484.50" stroke="#000" stroke-width="1.40"/>
<line x1="237.80" y1="496.50" x2="251.20" y2="496.50" stroke="#000" stroke-width="1.40"/>
<circle cx="244.5" cy="500.7" r="6.0" stroke="#000" stroke-width="1.4"/>
<line x1="244.50" y1="496.50" x2="244.50" y2="507.00" stroke="#000" stroke-width="1.90"/>
<line x1="237.80" y1="496.50" x2="251.20" y2="496.50" stroke="#000" stroke-width="1.40"/>
<line x1="237.80" y1="507.00" x2="251.20" y2="507.00" stroke="#000" stroke-width="1.40"/>
<circle cx="292.0" cy="431.8" r="6.0" stroke="#000" stroke-width="1.4"/>
<line x1="292.00" y1="427.30" x2="292.00" y2="437.60" stroke="#000" stroke-width="1.90"/>
<line x1="285.30" y1="427.30" x2="298.70" y2="427.30" stroke="#000" stroke-width="1.40"/>
<line x1="285.30" y1="437.60" x2="298.70" y2="437.60" stroke="#000" stroke-width="1.40"/>
<circle cx="303.6" cy="417.0" r="6.0" stroke="#000" stroke-width="1.4"/>
<line x1="303.60" y1="413.70" x2="303.60" y2="420.70" stroke="#000" stroke-width="1.90"/>
<line x1="296.90" y1="413.70" x2="310.30" y2="413.70" stroke="#000" stroke-width="1.40"/>
<line x1="296.90" y1="420.70" x2="310.30" y2="420.70" stroke="#000" stroke-width="1.40"/>
<circle cx="309.3" cy="419.7" r="6.0" stroke="#000" stroke-width="1.4"/>
<line x1="309.30" y1="415.90" x2="309.30" y2="423.50" stroke="#000" stroke-width="1.90"/>
<line x1="302.60" y1="415.90" x2="316.00" y2="415.90" stroke="#000" stroke-width="1.40"/>
<line x1="302.60" y1="423.50" x2="316.00" y2="423.50" stroke="#000" stroke-width="1.40"/>
<circle cx="332.1" cy="405.7" r="6.0" stroke="#000" stroke-width="1.4"/>
<line x1="332.10" y1="404.80" x2="332.10" y2="406.90" stroke="#000" stroke-width="1.90"/>
<line x1="325.40" y1="404.80" x2="338.80" y2="404.80" stroke="#000" stroke-width="1.40"/>
<line x1="325.40" y1="406.90" x2="338.80" y2="406.90" stroke="#000" stroke-width="1.40"/>
<circle cx="329.4" cy="418.0" r="6.0" stroke="#000" stroke-width="1.4"/>
<line x1="329.40" y1="408.30" x2="329.40" y2="430.80" stroke="#000" stroke-width="1.90"/>
<line x1="322.70" y1="408.30" x2="336.10" y2="408.30" stroke="#000" stroke-width="1.40"/>
<line x1="322.70" y1="430.80" x2="336.10" y2="430.80" stroke="#000" stroke-width="1.40"/>
<circle cx="443.2" cy="402.2" r="6.0" stroke="#000" stroke-width="1.4"/>
<line x1="443.20" y1="400.90" x2="443.20" y2="404.20" stroke="#000" stroke-width="1.90"/>
<line x1="436.50" y1="400.90" x2="449.90" y2="400.90" stroke="#000" stroke-width="1.40"/>
<line x1="436.50" y1="404.20" x2="449.90" y2="404.20" stroke="#000" stroke-width="1.40"/>
<circle cx="507.9" cy="443.5" r="6.0" stroke="#000" stroke-width="1.4"/>
<line x1="507.90" y1="441.30" x2="507.90" y2="445.70" stroke="#000" stroke-width="1.90"/>
<line x1="501.20" y1="441.30" x2="514.60" y2="441.30" stroke="#000" stroke-width="1.40"/>
<line x1="501.20" y1="445.70" x2="514.60" y2="445.70" stroke="#000" stroke-width="1.40"/>
<circle cx="698.3" cy="602.9" r="6.0" stroke="#000" stroke-width="1.4"/>
<line x1="698.30" y1="582.40" x2="698.30" y2="663.80" stroke="#000" stroke-width="1.90"/>
<line x1="691.60" y1="582.40" x2="705.00" y2="582.40" stroke="#000" stroke-width="1.40"/>
<line x1="691.60" y1="663.80" x2="705.00" y2="663.80" stroke="#000" stroke-width="1.40"/>
<circle cx="770.8" cy="685.6" r="6.0" stroke="#000" stroke-width="1.4"/>
<circle cx="779.0" cy="701.1" r="6.0" stroke="#000" stroke-width="1.4"/>
<line x1="779.00" y1="695.20" x2="779.00" y2="707.50" stroke="#000" stroke-width="1.90"/>
<line x1="772.30" y1="695.20" x2="785.70" y2="695.20" stroke="#000" stroke-width="1.40"/>
<line x1="772.30" y1="707.50" x2="785.70" y2="707.50" stroke="#000" stroke-width="1.40"/>
<line x1="770.80" y1="685.60" x2="770.80" y2="698.40" stroke="#000" stroke-width="1.90"/>
<line x1="770.80" y1="692.60" x2="768.30" y2="686.20" stroke="#000" stroke-width="1.20"/>
<line x1="770.80" y1="692.60" x2="773.30" y2="686.20" stroke="#000" stroke-width="1.20"/>
<g clip-path="url(#ca)">
<path d="M126.0 355.0C126.5 354.4 127.1 353.7 128.9 351.5C130.7 349.3 134.2 345.1 136.6 341.8C139.0 338.5 141.7 335.4 143.3 331.8C144.9 328.2 145.2 324.2 146.2 320.2C147.2 316.2 147.5 310.6 149.1 307.7C150.7 304.8 153.2 304.7 155.8 302.9C158.4 301.1 162.1 300.0 164.5 297.1C166.9 294.2 168.4 289.2 170.3 285.5C172.2 281.8 174.2 278.6 176.1 274.9C178.0 271.2 180.1 267.7 181.9 263.4C183.7 259.1 185.1 254.2 186.7 248.9C188.3 243.6 190.2 236.4 191.5 231.6C192.8 226.8 192.9 225.2 194.4 220.0C195.9 214.8 198.3 207.6 200.4 200.2C202.5 192.8 205.3 180.8 207.2 175.4C209.1 170.0 210.5 169.9 211.8 167.8C213.1 165.8 214.0 164.7 215.2 163.1C216.4 161.5 217.7 159.7 219.0 158.1C220.3 156.5 221.5 154.9 222.8 153.4C224.1 151.9 225.5 150.3 227.0 148.8C228.5 147.3 230.0 145.9 231.6 144.6C233.2 143.3 234.7 142.0 236.3 140.8C237.9 139.6 239.6 138.5 241.3 137.4C243.1 136.3 244.9 135.4 246.8 134.5C248.7 133.6 250.8 132.8 252.7 131.9C254.6 131.0 256.6 130.2 258.2 129.0C259.8 127.8 261.1 126.5 262.4 124.8C263.7 123.1 265.1 120.7 266.2 118.9C267.3 117.1 268.3 115.4 269.2 113.8C270.1 112.2 270.6 111.2 271.6 109.4C272.6 107.6 274.1 104.7 275.2 102.7C276.3 100.7 277.1 99.1 278.1 97.3C279.1 95.5 279.9 93.8 281.0 92.0C282.1 90.2 283.3 88.5 284.4 86.7C285.5 84.9 286.6 83.2 287.8 81.4C289.0 79.7 289.9 78.2 291.5 76.2C293.1 74.2 295.8 71.1 297.5 69.3C299.2 67.5 300.2 66.6 301.5 65.6C302.8 64.6 303.5 64.1 305.1 63.1C306.7 62.1 309.0 60.7 310.9 59.8C312.8 58.9 314.8 58.4 316.7 57.8C318.6 57.2 320.6 56.9 322.5 56.4C324.4 55.9 326.4 55.3 328.3 54.9C330.2 54.5 331.9 54.3 334.0 53.9C336.1 53.5 337.3 53.2 341.0 52.6C344.7 52.0 351.3 50.9 356.4 50.1C361.5 49.4 366.7 48.7 371.8 48.1C376.9 47.5 382.7 47.1 387.2 46.8C391.7 46.5 396.3 46.2 398.8 46.2C401.3 46.2 399.7 46.5 402.3 46.9C404.9 47.3 410.5 48.0 414.6 48.6C418.7 49.2 422.8 49.8 426.9 50.6C431.0 51.5 435.1 52.6 439.2 53.7C443.3 54.8 447.3 56.0 451.4 57.4C455.5 58.8 459.6 60.2 463.7 61.9C467.8 63.6 471.9 65.5 476.0 67.4C480.1 69.3 484.2 71.1 488.3 73.1C492.4 75.1 496.5 77.2 500.6 79.3C504.7 81.4 508.8 83.5 512.9 85.8C517.0 88.1 520.8 90.5 525.2 93.0C529.6 95.5 534.9 98.3 539.2 101.0C543.5 103.7 547.2 106.1 551.2 108.9C555.2 111.7 559.3 114.9 563.3 117.9C567.3 120.9 571.3 123.7 575.3 126.9C579.3 130.1 583.4 133.9 587.4 137.2C591.4 140.5 595.2 143.5 599.4 146.8C603.5 150.1 608.9 154.1 612.3 156.9C615.7 159.7 616.7 160.6 620.0 163.6C623.3 166.6 628.0 171.2 632.0 175.1C636.0 179.0 640.1 183.1 644.1 187.1C648.1 191.1 652.1 195.2 656.1 199.2C660.1 203.2 664.2 207.1 668.2 211.2C672.2 215.3 676.1 219.8 680.2 223.9C684.3 228.0 688.7 231.8 692.8 236.0C696.9 240.2 701.5 245.7 704.8 249.3C708.1 252.9 709.2 254.0 712.5 257.6C715.8 261.2 720.6 266.5 724.6 271.1C728.6 275.7 732.6 280.3 736.6 285.0C740.6 289.7 744.8 294.5 748.7 299.1C752.6 303.7 756.3 308.3 759.8 312.5C763.2 316.7 766.2 320.2 769.4 324.1C772.6 328.0 775.9 332.0 779.1 336.1C782.3 340.2 785.2 344.4 788.7 348.7C792.2 353.0 797.3 359.2 799.8 362.2C802.3 365.2 802.9 365.9 803.5 366.7" stroke="#0000ff" stroke-width="1.9" stroke-dasharray="2.2 4.0"/>
<path d="M147.0 378.0C147.2 377.2 147.6 375.7 148.1 373.3C148.6 370.9 149.1 366.5 150.1 363.6C151.1 360.7 152.1 359.8 153.9 355.9C155.7 352.0 158.7 344.8 160.7 340.5C162.7 336.2 164.6 333.6 165.9 329.9C167.2 326.2 167.4 321.8 168.4 318.3C169.4 314.8 170.8 312.9 172.2 308.7C173.6 304.5 175.4 298.4 177.0 293.3C178.6 288.2 180.3 283.9 181.9 277.8C183.5 271.7 185.1 263.7 186.7 256.6C188.3 249.5 190.0 242.5 191.5 235.4C193.0 228.3 194.3 220.7 195.7 214.3C197.0 207.9 198.1 202.8 199.6 197.1C201.1 191.4 203.1 184.7 204.6 180.0C206.1 175.3 207.1 172.2 208.4 169.0C209.8 165.8 211.3 163.3 212.7 160.6C214.1 157.9 215.5 155.4 216.9 153.0C218.3 150.6 219.7 148.3 221.1 146.3C222.5 144.3 223.9 142.5 225.3 140.8C226.7 139.1 228.1 137.4 229.5 136.1C230.9 134.8 232.3 133.9 233.7 132.8C235.1 131.8 236.6 130.7 238.0 129.8C239.4 128.9 240.8 128.0 242.2 127.3C243.6 126.6 245.0 126.0 246.4 125.6C247.8 125.2 249.2 125.1 250.6 124.8C252.0 124.5 253.4 124.1 254.8 123.5C256.2 122.9 257.8 121.9 259.0 121.0C260.2 120.1 260.9 119.2 261.8 118.0C262.7 116.8 263.7 115.2 264.6 113.8C265.6 112.4 266.7 110.8 267.5 109.5C268.3 108.2 268.4 108.0 269.5 106.0C270.6 104.0 272.7 100.5 274.3 97.8C275.9 95.1 277.5 92.6 279.1 90.1C280.7 87.6 282.3 85.2 283.9 82.9C285.5 80.6 287.1 78.1 288.7 76.1C290.3 74.1 292.0 72.3 293.6 70.8C295.2 69.3 296.8 68.0 298.4 67.0C300.0 66.0 301.6 65.3 303.2 64.6C304.8 63.9 306.4 63.4 308.0 62.7C309.6 62.1 311.2 61.3 312.8 60.7C314.4 60.1 316.1 59.6 317.7 59.1C319.3 58.6 320.9 58.0 322.5 57.5C324.1 57.0 325.7 56.8 327.3 56.4C328.9 56.0 328.9 56.1 332.1 55.4C335.3 54.7 342.0 53.0 346.7 52.0C351.4 51.0 355.4 50.4 360.2 49.5C365.0 48.6 371.2 47.5 375.7 46.8C380.2 46.1 383.7 45.8 387.2 45.4C390.7 45.0 393.0 44.5 396.9 44.5C400.8 44.5 406.2 45.1 410.5 45.5C414.8 45.9 418.7 46.4 422.8 47.1C426.9 47.8 431.0 48.6 435.1 49.6C439.2 50.6 443.3 51.7 447.4 53.1C451.5 54.5 455.5 56.2 459.6 57.8C463.7 59.4 467.8 60.7 471.9 62.5C476.0 64.3 480.1 66.4 484.2 68.4C488.3 70.5 492.4 72.7 496.5 74.8C500.6 76.9 504.7 79.0 508.8 81.3C512.9 83.6 517.0 86.1 521.1 88.5C525.2 90.9 530.2 93.8 533.4 95.7C536.5 97.7 536.9 98.1 540.0 100.2C543.1 102.3 548.0 105.3 552.0 108.1C556.0 110.9 560.1 114.1 564.1 117.1C568.1 120.1 572.1 122.9 576.1 126.1C580.1 129.3 584.2 133.1 588.2 136.4C592.2 139.7 596.2 142.6 600.2 146.0C604.2 149.4 609.0 154.0 612.3 156.9C615.6 159.8 616.7 160.6 620.0 163.6C623.3 166.6 628.0 171.2 632.0 175.1C636.0 179.0 640.1 183.1 644.1 187.1C648.1 191.1 652.1 195.2 656.1 199.2C660.1 203.2 664.2 207.1 668.2 211.2C672.2 215.3 676.2 219.7 680.2 223.9C684.2 228.1 688.3 232.2 692.3 236.5C696.3 240.8 701.0 246.2 704.3 249.8C707.6 253.4 708.7 254.5 712.0 258.1C715.3 261.7 720.1 267.0 724.1 271.6C728.1 276.2 732.1 280.8 736.1 285.5C740.1 290.2 744.3 295.0 748.2 299.6C752.1 304.2 755.8 308.8 759.3 313.0C762.8 317.2 765.7 320.7 768.9 324.6C772.1 328.5 775.4 332.5 778.6 336.6C781.8 340.7 784.8 344.9 788.2 349.2C791.7 353.5 796.8 359.7 799.3 362.7C801.8 365.7 802.4 366.4 803.0 367.2" stroke="#ff0000" stroke-width="1.75"/>
</g>
<g clip-path="url(#cb)">
<path d="M126.0 595.0C126.5 594.5 127.0 594.2 128.9 592.3C130.8 590.4 134.6 586.2 137.5 583.6C140.4 581.0 143.3 579.1 146.2 576.9C149.1 574.6 152.0 572.4 154.9 570.1C157.8 567.9 160.7 565.6 163.6 563.4C166.5 561.1 169.3 558.9 172.2 556.6C175.1 554.4 178.0 552.1 180.9 549.9C183.8 547.6 186.9 545.2 189.6 543.1C192.3 541.0 195.4 539.1 197.3 537.3C199.2 535.5 200.0 534.1 201.0 532.5C202.0 530.9 202.4 529.4 203.2 527.6C204.0 525.8 204.8 523.7 205.6 521.8C206.4 519.9 207.2 517.9 208.0 516.0C208.8 514.1 209.6 512.4 210.2 510.5C210.8 508.6 211.0 506.6 211.4 504.5C211.8 502.4 212.1 499.8 212.5 497.7C212.9 495.6 213.4 493.8 213.8 491.9C214.2 490.0 214.5 487.6 215.2 486.1C215.9 484.6 216.8 483.0 218.1 483.0C219.4 483.0 221.7 486.4 222.8 485.9C223.9 485.4 224.3 481.9 224.9 479.9C225.5 477.8 226.0 475.6 226.6 473.6C227.2 471.6 227.4 469.5 228.3 467.8C229.2 466.1 231.2 463.2 232.1 463.5C233.0 463.8 233.4 467.3 234.0 469.3C234.6 471.3 234.8 473.6 235.5 475.5C236.2 477.4 237.2 479.2 237.9 480.8C238.6 482.4 239.2 483.4 239.8 485.2C240.4 487.0 240.5 490.0 241.7 491.4C242.9 492.8 245.2 493.5 247.0 493.4C248.8 493.2 250.9 491.9 252.3 490.5C253.7 489.1 254.3 486.7 255.2 484.7C256.1 482.7 256.8 480.6 257.5 478.7C258.2 476.8 258.4 474.9 259.4 473.1C260.4 471.3 261.8 469.4 263.4 468.1C265.0 466.8 267.3 466.4 269.2 465.4C271.1 464.4 272.8 463.7 274.5 462.0C276.2 460.3 276.9 457.8 279.3 455.0C281.7 452.2 286.2 448.4 288.9 445.4C291.6 442.3 293.8 439.8 295.7 436.7C297.6 433.6 299.1 430.4 300.5 427.0C301.9 423.6 303.0 419.9 304.3 416.4C305.6 412.9 306.9 408.6 308.2 405.8C309.5 403.0 310.9 400.0 312.4 399.7C313.8 399.4 315.3 402.2 316.9 403.9C318.4 405.6 319.9 407.9 321.7 409.7C323.5 411.5 325.4 412.7 327.5 414.5C329.6 416.3 331.9 418.7 334.2 420.3C336.4 421.9 338.6 423.1 341.0 424.2C343.4 425.3 345.8 425.9 348.7 427.0C351.6 428.1 355.6 430.0 358.3 430.5C361.0 431.0 363.2 430.6 365.1 429.9C367.0 429.2 368.3 427.7 369.9 426.1C371.5 424.5 372.8 421.9 374.7 420.3C376.6 418.7 378.7 417.4 381.4 416.4C384.1 415.4 387.9 415.1 391.1 414.5C394.3 413.9 397.8 413.4 400.7 412.6C403.6 411.8 405.6 410.4 408.7 409.7C411.8 409.0 415.9 408.7 419.5 408.6C423.1 408.5 426.8 408.9 430.4 409.3C434.0 409.7 437.6 410.2 441.2 410.8C444.8 411.4 448.4 412.2 452.0 413.0C455.6 413.8 459.3 414.7 462.9 415.6C466.5 416.5 470.1 417.3 473.7 418.4C477.3 419.5 481.0 420.8 484.6 422.1C488.2 423.4 491.8 424.8 495.4 426.4C499.0 427.9 502.7 429.7 506.3 431.4C509.9 433.1 513.5 434.9 517.1 436.8C520.7 438.7 524.0 440.5 528.0 442.7C532.0 444.9 537.2 447.8 541.2 450.2C545.2 452.6 548.2 454.6 552.0 457.1C555.8 459.6 560.1 462.3 564.1 465.1C568.1 467.9 572.1 470.7 576.1 473.7C580.1 476.7 584.2 479.9 588.2 483.1C592.2 486.3 596.2 489.6 600.2 493.0C604.2 496.4 608.3 499.8 612.3 503.3C616.3 506.8 621.3 511.3 624.3 514.1C627.3 516.9 627.9 517.7 630.2 520.0C632.5 522.3 635.2 525.0 638.1 527.8C641.0 530.6 644.7 533.9 647.7 536.9C650.7 539.9 653.2 542.9 656.1 545.9C659.0 548.9 662.3 551.9 665.2 554.9C668.1 557.9 670.8 561.0 673.6 564.0C676.4 567.0 679.2 570.0 682.0 573.0C684.8 576.0 687.8 578.9 690.5 582.0C693.2 585.1 695.6 588.6 698.3 591.7C701.0 594.9 703.8 597.8 706.7 600.9C709.6 604.0 712.7 607.0 715.5 610.1C718.3 613.2 720.8 616.2 723.5 619.3C726.2 622.4 729.2 625.7 731.9 628.9C734.6 632.1 737.2 635.4 739.8 638.6C742.4 641.8 745.0 644.8 747.6 648.0C750.2 651.2 752.7 654.4 755.4 657.6C758.1 660.8 761.2 664.1 763.9 667.2C766.6 670.4 769.1 673.4 771.7 676.5C774.3 679.6 776.7 682.8 779.5 686.1C782.3 689.4 786.7 694.0 788.6 696.4C790.5 698.8 789.3 698.2 791.1 700.5C792.9 702.8 797.3 707.8 799.3 710.1C801.3 712.4 802.4 713.8 803.0 714.5" stroke="#0000ff" stroke-width="1.9" stroke-dasharray="2.2 4.0"/>
<path d="M149.0 732.0C149.3 731.3 149.2 731.4 150.7 728.0C152.1 724.6 155.5 717.0 157.7 711.8C159.9 706.6 162.2 702.1 164.0 697.0C165.8 691.9 166.4 686.3 168.2 681.2C169.9 676.1 172.2 671.6 174.5 666.5C176.8 661.4 179.8 655.8 181.9 650.7C184.0 645.6 185.3 640.8 187.2 635.9C189.1 631.0 191.4 626.2 193.5 621.1C195.6 616.0 198.4 609.5 199.8 605.3C201.2 601.1 201.1 600.5 202.0 595.8C202.9 591.1 203.9 582.9 205.1 576.9C206.2 570.9 207.9 565.5 208.9 560.0C209.9 554.5 210.3 549.1 211.0 544.1C211.7 539.1 212.2 533.8 212.8 530.0C213.4 526.2 213.8 523.9 214.3 521.3C214.8 518.7 215.2 516.4 215.7 514.6C216.2 512.8 216.8 510.8 217.4 510.7C218.1 510.6 218.9 513.5 219.6 514.1C220.3 514.7 220.9 514.5 221.5 514.1C222.1 513.7 222.8 513.4 223.4 511.7C224.0 510.0 224.5 506.7 225.1 504.0C225.7 501.3 226.2 497.9 226.8 495.3C227.4 492.7 228.0 490.3 228.7 488.6C229.4 486.9 230.4 485.7 231.1 485.2C231.8 484.7 232.5 485.1 233.1 485.7C233.7 486.3 234.0 487.3 234.5 488.6C235.0 489.9 235.4 491.6 236.0 493.4C236.6 495.2 237.3 497.4 237.9 499.2C238.5 501.0 239.2 502.8 239.8 504.0C240.4 505.2 241.0 506.1 241.7 506.4C242.4 506.7 243.2 506.3 244.2 505.9C245.2 505.5 246.5 504.9 247.5 504.0C248.5 503.1 249.4 502.1 250.4 500.6C251.4 499.2 252.4 497.2 253.3 495.3C254.2 493.4 254.9 491.6 255.7 489.5C256.5 487.4 257.3 484.9 258.1 482.8C258.9 480.7 259.6 478.7 260.5 477.0C261.4 475.3 262.3 474.1 263.4 472.7C264.5 471.3 266.0 470.2 267.3 468.8C268.6 467.4 269.8 465.5 271.1 464.0C272.4 462.5 273.6 461.3 275.0 459.6C276.4 457.9 277.0 456.9 279.3 454.0C281.6 451.1 286.0 446.2 288.9 442.5C291.8 438.8 294.4 435.1 296.6 431.9C298.9 428.7 300.6 425.9 302.4 423.2C304.2 420.5 305.8 417.5 307.2 415.5C308.6 413.5 309.8 412.1 311.1 411.2C312.4 410.3 313.1 410.4 314.9 410.3C316.7 410.2 319.3 410.9 321.7 410.7C324.1 410.5 326.2 409.7 329.4 409.1C332.6 408.6 337.1 407.9 341.0 407.4C344.9 406.8 349.0 406.3 352.5 405.8C356.0 405.3 359.3 405.0 362.2 404.3C365.1 403.6 367.3 402.5 369.9 401.6C372.5 400.7 375.0 399.7 377.6 399.1C380.2 398.5 382.4 398.3 385.3 398.1C388.2 397.9 391.7 398.0 394.9 398.1C398.1 398.2 402.0 398.6 404.6 398.7C407.2 398.8 408.0 398.6 410.8 398.9C413.6 399.2 418.1 399.8 421.7 400.4C425.3 401.0 428.9 401.8 432.5 402.8C436.1 403.8 439.8 405.1 443.4 406.4C447.0 407.7 450.6 409.2 454.2 410.8C457.8 412.4 461.5 414.4 465.1 416.2C468.7 418.0 472.3 419.7 475.9 421.6C479.5 423.5 483.1 425.7 486.7 427.7C490.3 429.7 494.0 431.5 497.6 433.6C501.2 435.7 504.8 437.8 508.4 440.1C512.0 442.4 515.7 444.9 519.3 447.2C522.9 449.5 526.6 451.8 530.1 454.2C533.6 456.6 536.4 459.0 540.0 461.7C543.6 464.4 548.0 467.2 552.0 470.1C556.0 473.0 560.1 476.0 564.1 479.2C568.1 482.4 572.1 485.8 576.1 489.2C580.1 492.6 584.2 496.0 588.2 499.6C592.2 503.2 596.2 507.3 600.2 511.1C604.2 514.9 609.0 519.3 612.3 522.5C615.6 525.7 616.7 527.0 620.0 530.2C623.3 533.4 628.0 537.7 632.0 541.7C636.0 545.7 640.1 550.1 644.1 554.3C648.1 558.5 652.1 562.8 656.1 567.0C660.1 571.2 664.2 575.3 668.2 579.6C672.2 583.9 676.2 588.5 680.2 592.9C684.2 597.3 689.0 602.3 692.3 606.1C695.6 609.9 696.7 611.8 700.0 615.7C703.3 619.6 708.0 624.8 712.0 629.5C716.0 634.2 720.1 639.2 724.1 644.0C728.1 648.8 732.1 653.6 736.1 658.4C740.1 663.2 745.5 669.8 748.2 672.9C750.9 676.0 749.9 674.1 752.5 677.3C755.1 680.4 760.6 687.3 764.1 691.8C767.6 696.3 770.5 700.3 773.7 704.3C776.9 708.3 780.1 711.9 783.4 715.9C786.7 719.9 791.2 725.6 793.5 728.4C795.8 731.2 796.4 732.1 797.0 732.8" stroke="#ff0000" stroke-width="1.75"/>
</g>
<line x1="210.00" y1="240.80" x2="270.50" y2="240.80" stroke="#0000ff" stroke-width="2.00" stroke-dasharray="2.2 4.0"/>
<line x1="210.00" y1="303.10" x2="269.50" y2="303.10" stroke="#ff0000" stroke-width="1.80"/>
<line x1="210.00" y1="595.20" x2="270.50" y2="595.20" stroke="#0000ff" stroke-width="2.00" stroke-dasharray="2.2 4.0"/>
<line x1="210.00" y1="657.60" x2="269.50" y2="657.60" stroke="#ff0000" stroke-width="1.80"/>
</g>
<text transform="translate(58.90,29.90) scale(1.1032,1)" font-size="25.00" class="s">10</text>
<text transform="translate(91.46,22.30) scale(1.1162,1)" font-size="17.00" class="s" stroke="#000" stroke-width="0.35">−9</text>
<text transform="translate(48.48,108.17) scale(1.1153,1)" font-size="25.00" class="s">10</text>
<text transform="translate(81.16,100.57) scale(1.1195,1)" font-size="17.00" class="s" stroke="#000" stroke-width="0.35">−10</text>
<text transform="translate(48.48,186.44) scale(1.1153,1)" font-size="25.00" class="s">10</text>
<text transform="translate(81.20,178.84) scale(1.0711,1)" font-size="17.00" class="s" stroke="#000" stroke-width="0.35">−11</text>
<text transform="translate(48.48,264.71) scale(1.1153,1)" font-size="25.00" class="s">10</text>
<text transform="translate(81.15,257.11) scale(1.1273,1)" font-size="17.00" class="s" stroke="#000" stroke-width="0.35">−12</text>
<text transform="translate(48.48,342.97) scale(1.1153,1)" font-size="25.00" class="s">10</text>
<text transform="translate(81.16,335.37) scale(1.1229,1)" font-size="17.00" class="s" stroke="#000" stroke-width="0.35">−13</text>
<text transform="translate(58.90,383.90) scale(1.1032,1)" font-size="25.00" class="s">10</text>
<text transform="translate(91.46,376.30) scale(1.1162,1)" font-size="17.00" class="s" stroke="#000" stroke-width="0.35">−9</text>
<text transform="translate(48.48,462.17) scale(1.1153,1)" font-size="25.00" class="s">10</text>
<text transform="translate(81.16,454.57) scale(1.1195,1)" font-size="17.00" class="s" stroke="#000" stroke-width="0.35">−10</text>
<text transform="translate(48.48,540.44) scale(1.1153,1)" font-size="25.00" class="s">10</text>
<text transform="translate(81.20,532.84) scale(1.0711,1)" font-size="17.00" class="s" stroke="#000" stroke-width="0.35">−11</text>
<text transform="translate(48.48,618.71) scale(1.1153,1)" font-size="25.00" class="s">10</text>
<text transform="translate(81.15,611.11) scale(1.1273,1)" font-size="17.00" class="s" stroke="#000" stroke-width="0.35">−12</text>
<text transform="translate(48.48,696.97) scale(1.1153,1)" font-size="25.00" class="s">10</text>
<text transform="translate(81.16,689.37) scale(1.1229,1)" font-size="17.00" class="s" stroke="#000" stroke-width="0.35">−13</text>
<text transform="translate(120.47,751.00) scale(1.1776,1)" font-size="24.00" class="s">5</text>
<text transform="translate(202.01,751.00) scale(1.0865,1)" font-size="24.00" class="s">10</text>
<text transform="translate(340.57,751.00) scale(1.1270,1)" font-size="24.00" class="s">30</text>
<text transform="translate(485.75,751.00) scale(1.1213,1)" font-size="24.00" class="s">100</text>
<text transform="translate(623.87,751.00) scale(1.1259,1)" font-size="24.00" class="s">300</text>
<text transform="translate(758.68,751.00) scale(1.1062,1)" font-size="24.00" class="s">1000</text>
<text transform="translate(404.69,775.30) scale(1.0433,1)" font-size="33.00">λ</text>
<text transform="translate(441.22,774.90) scale(1.0629,1)" font-size="35.90">(</text>
<text transform="translate(454.85,775.30) scale(1.3999,1)" font-size="33.00" class="i">μ</text>
<text transform="translate(477.87,775.30) scale(1.1979,1)" font-size="33.00">m</text>
<text transform="translate(511.08,774.90) scale(1.0520,1)" font-size="35.90">)</text>
<g transform="translate(35.8,0) rotate(-90)">
<text transform="translate(-538.11,0.00) scale(1.2773,1)" font-size="33.00">λ</text>
<text transform="translate(-516.31,0.00) scale(1.0672,1)" font-size="33.00">F</text>
<text transform="translate(-498.63,8.70) scale(1.3364,1)" font-size="18.00">λ</text>
<text transform="translate(-452.16,-2.20) scale(1.1000,1)" font-size="35.90">(</text>
<text transform="translate(-436.67,0.00) scale(1.2200,1)" font-size="33.00" letter-spacing="0.341">erg</text>
<text transform="translate(-369.60,0.00) scale(1.4000,1)" font-size="33.00">s</text>
<text transform="translate(-348.38,-11.90) scale(1.0534,1)" font-size="17.00" class="s">−</text>
<text transform="translate(-337.21,-11.90) scale(1.3234,1)" font-size="17.00" class="s">1</text>
<text transform="translate(-305.63,0.00) scale(1.2200,1)" font-size="33.00" letter-spacing="0.555">cm</text>
<text transform="translate(-252.98,-11.90) scale(1.1744,1)" font-size="17.00" class="s">−</text>
<text transform="translate(-240.19,-11.90) scale(1.3945,1)" font-size="17.00" class="s">2</text>
<text transform="translate(-228.33,-2.20) scale(1.0629,1)" font-size="35.90">)</text>
</g>
<text transform="translate(168.79,53.90) scale(1.0493,1)" font-size="29.50" class="s">a</text>
<text transform="translate(169.80,412.00) scale(1.1641,1)" font-size="31.80">b</text>
<text transform="translate(576.71,58.80) scale(0.9494,1)" font-size="32.40">HR</text>
<text transform="translate(638.25,58.80) scale(1.1898,1)" font-size="32.40">4796</text>
<text transform="translate(715.42,58.80) scale(0.8842,1)" font-size="32.40">A</text>
<text transform="translate(550.07,87.70) scale(1.1129,1)" font-size="24.30">cold</text>
<path d="M599.80 81.60H616.80" stroke="#000" stroke-width="1.6" fill="none"/>
<text transform="translate(619.27,87.70) scale(1.2200,1)" font-size="24.30" letter-spacing="0.326">coagulation</text>
<text transform="translate(585.53,113.20) scale(1.2200,1)" font-size="24.30" letter-spacing="0.827">dust</text>
<text transform="translate(652.48,113.20) scale(1.2152,1)" font-size="24.30">model</text>
<text transform="translate(576.71,413.10) scale(0.9494,1)" font-size="32.40">HR</text>
<text transform="translate(638.25,413.10) scale(1.1898,1)" font-size="32.40">4796</text>
<text transform="translate(715.42,413.10) scale(0.8842,1)" font-size="32.40">A</text>
<text transform="translate(586.33,445.10) scale(1.1281,1)" font-size="24.30">hot</text>
<path d="M626.20 439.00H642.60" stroke="#000" stroke-width="1.6" fill="none"/>
<text transform="translate(645.42,445.10) scale(1.2200,1)" font-size="24.30" letter-spacing="0.404">nebula</text>
<text transform="translate(585.53,467.20) scale(1.2200,1)" font-size="24.30" letter-spacing="0.827">dust</text>
<text transform="translate(652.48,467.20) scale(1.2152,1)" font-size="24.30">model</text>
<text transform="translate(344.15,144.60) scale(1.2200,1)" font-size="26.00" letter-spacing="0.333">dn</text>
<line x1="379.00" y1="150.00" x2="392.80" y2="125.00" stroke="#000" stroke-width="1.70"/>
<text transform="translate(394.55,144.60) scale(1.2200,1)" font-size="26.00" letter-spacing="0.607">da</text>
<path d="M454.6 133.6 C451 133.6 449.6 141.3 445.2 141.3 C442.6 141.3 441.7 139.5 441.7 137.4 C441.7 135.3 442.6 133.5 445.2 133.5 C449.6 133.5 451 141.2 454.6 141.2" fill="none" stroke="#000" stroke-width="1.4"/>
<text transform="translate(457.28,144.60) scale(1.0719,1)" font-size="24.70" class="s">a</text>
<text transform="translate(474.86,137.60) scale(1.1389,1)" font-size="15.00" class="s">−</text>
<text transform="translate(485.25,137.60) scale(1.1873,1)" font-size="16.00" class="i" font-weight="bold">α</text>
<text transform="translate(252.29,174.00) scale(1.1808,1)" font-size="26.00" class="i">σ</text>
<text transform="translate(269.42,174.00) scale(1.0333,1)" font-size="26.00">(</text>
<text transform="translate(279.92,174.00) scale(1.2800,1)" font-size="26.00">r</text>
<text transform="translate(295.05,174.00) scale(1.1381,1)" font-size="26.00">)</text>
<path d="M306.20 164.30H322.60M306.20 169.00H322.60" stroke="#000" stroke-width="1.60" fill="none"/>
<text transform="translate(323.29,174.00) scale(1.1730,1)" font-size="26.00" class="i">σ</text>
<text transform="translate(339.91,177.60) scale(1.2039,1)" font-size="15.00" class="s" font-weight="bold">p</text>
<text transform="translate(356.50,174.00) scale(1.1381,1)" font-size="26.00">(</text>
<text transform="translate(367.77,174.00) scale(1.2800,1)" font-size="26.00">r</text>
<line x1="381.10" y1="179.40" x2="396.20" y2="154.40" stroke="#000" stroke-width="1.70"/>
<text transform="translate(397.92,174.00) scale(1.2800,1)" font-size="26.00">r</text>
<text transform="translate(410.77,177.60) scale(1.0452,1)" font-size="15.00" class="s" font-weight="bold">p</text>
<text transform="translate(420.81,174.00) scale(1.3028,1)" font-size="26.00">)</text>
<text transform="translate(431.97,167.00) scale(1.1252,1)" font-size="15.00" class="s">−</text>
<text transform="translate(442.87,167.00) scale(1.1636,1)" font-size="16.00" class="i" font-weight="bold">β</text>
<text transform="translate(453.40,174.00) scale(1.1105,1)" font-size="26.00">,</text>
<text transform="translate(475.32,174.00) scale(1.2800,1)" font-size="26.00">r</text>
<text transform="translate(487.43,177.60) scale(1.0849,1)" font-size="15.00" class="s" font-weight="bold">p</text>
<path d="M499.00 164.30H515.30M499.00 169.00H515.30" stroke="#000" stroke-width="1.60" fill="none"/>
<text transform="translate(516.77,174.00) scale(1.1391,1)" font-size="26.20" class="s">70</text>
<text transform="translate(554.69,174.00) scale(0.8380,1)" font-size="26.00">AU</text>
<text transform="translate(316.47,208.80) scale(1.1129,1)" font-size="26.00">P</text>
<path d="M335.80 199.10H350.40M335.80 203.80H350.40" stroke="#000" stroke-width="1.60" fill="none"/>
<text transform="translate(353.50,208.80) scale(1.0706,1)" font-size="26.20" class="s">0.90</text>
<text transform="translate(408.50,208.80) scale(1.2138,1)" font-size="26.00">,</text>
<text transform="translate(428.27,208.80) scale(1.1129,1)" font-size="26.00">P</text>
<text transform="translate(443.48,208.80) scale(1.3448,1)" font-size="26.00">′</text>
<path d="M452.20 199.10H467.00M452.20 203.80H467.00" stroke="#000" stroke-width="1.60" fill="none"/>
<text transform="translate(469.51,208.80) scale(1.0631,1)" font-size="26.20" class="s">0.73</text>
<text transform="translate(344.15,498.60) scale(1.2200,1)" font-size="26.00" letter-spacing="0.333">dn</text>
<line x1="379.00" y1="504.00" x2="392.80" y2="479.00" stroke="#000" stroke-width="1.70"/>
<text transform="translate(394.55,498.60) scale(1.2200,1)" font-size="26.00" letter-spacing="0.607">da</text>
<path d="M454.6 487.6 C451 487.6 449.6 495.3 445.2 495.3 C442.6 495.3 441.7 493.5 441.7 491.4 C441.7 489.3 442.6 487.5 445.2 487.5 C449.6 487.5 451 495.2 454.6 495.2" fill="none" stroke="#000" stroke-width="1.4"/>
<text transform="translate(457.28,498.60) scale(1.0719,1)" font-size="24.70" class="s">a</text>
<text transform="translate(474.86,491.60) scale(1.1389,1)" font-size="15.00" class="s">−</text>
<text transform="translate(485.25,491.60) scale(1.1873,1)" font-size="16.00" class="i" font-weight="bold">α</text>
<text transform="translate(252.29,528.00) scale(1.1808,1)" font-size="26.00" class="i">σ</text>
<text transform="translate(269.42,528.00) scale(1.0333,1)" font-size="26.00">(</text>
<text transform="translate(279.92,528.00) scale(1.2800,1)" font-size="26.00">r</text>
<text transform="translate(295.05,528.00) scale(1.1381,1)" font-size="26.00">)</text>
<path d="M306.20 518.30H322.60M306.20 523.00H322.60" stroke="#000" stroke-width="1.60" fill="none"/>
<text transform="translate(323.29,528.00) scale(1.1730,1)" font-size="26.00" class="i">σ</text>
<text transform="translate(339.91,531.60) scale(1.2039,1)" font-size="15.00" class="s" font-weight="bold">p</text>
<text transform="translate(356.50,528.00) scale(1.1381,1)" font-size="26.00">(</text>
<text transform="translate(367.77,528.00) scale(1.2800,1)" font-size="26.00">r</text>
<line x1="381.10" y1="533.40" x2="396.20" y2="508.40" stroke="#000" stroke-width="1.70"/>
<text transform="translate(397.92,528.00) scale(1.2800,1)" font-size="26.00">r</text>
<text transform="translate(410.77,531.60) scale(1.0452,1)" font-size="15.00" class="s" font-weight="bold">p</text>
<text transform="translate(420.81,528.00) scale(1.3028,1)" font-size="26.00">)</text>
<text transform="translate(431.97,521.00) scale(1.1252,1)" font-size="15.00" class="s">−</text>
<text transform="translate(442.87,521.00) scale(1.1636,1)" font-size="16.00" class="i" font-weight="bold">β</text>
<text transform="translate(453.40,528.00) scale(1.1105,1)" font-size="26.00">,</text>
<text transform="translate(475.32,528.00) scale(1.2800,1)" font-size="26.00">r</text>
<text transform="translate(487.43,531.60) scale(1.0849,1)" font-size="15.00" class="s" font-weight="bold">p</text>
<path d="M499.00 518.30H515.30M499.00 523.00H515.30" stroke="#000" stroke-width="1.60" fill="none"/>
<text transform="translate(516.77,528.00) scale(1.1391,1)" font-size="26.20" class="s">70</text>
<text transform="translate(554.69,528.00) scale(0.8380,1)" font-size="26.00">AU</text>
<text transform="translate(316.47,562.80) scale(1.1129,1)" font-size="26.00">P</text>
<path d="M335.80 553.10H350.40M335.80 557.80H350.40" stroke="#000" stroke-width="1.60" fill="none"/>
<text transform="translate(353.50,562.80) scale(1.0706,1)" font-size="26.20" class="s">0.90</text>
<text transform="translate(408.50,562.80) scale(1.2138,1)" font-size="26.00">,</text>
<text transform="translate(428.27,562.80) scale(1.1129,1)" font-size="26.00">P</text>
<text transform="translate(443.48,562.80) scale(1.3448,1)" font-size="26.00">′</text>
<path d="M452.20 553.10H467.00M452.20 557.80H467.00" stroke="#000" stroke-width="1.60" fill="none"/>
<text transform="translate(469.51,562.80) scale(1.0604,1)" font-size="26.20" class="s">0.80</text>
<text transform="translate(274.83,243.60) scale(1.1614,1)" font-size="23.50" fill="#0000ff">model</text>
<text transform="translate(355.90,243.60) scale(1.1020,1)" font-size="22.00" class="i" fill="#0000ff">#</text>
<text transform="translate(369.96,243.60) scale(1.0616,1)" font-size="20.80" class="s" fill="#0000ff">9</text>
<text transform="translate(381.48,243.60) scale(1.3906,1)" font-size="22.00" fill="#0000ff">:</text>
<text transform="translate(400.83,243.60) scale(1.2800,1)" font-size="23.00" fill="#0000ff">r</text>
<text transform="translate(411.34,249.80) scale(1.1593,1)" font-size="12.60" class="s" font-weight="bold" fill="#0000ff">min</text>
<line x1="437.70" y1="248.80" x2="451.30" y2="226.60" stroke="#0000ff" stroke-width="1.70"/>
<text transform="translate(453.33,243.60) scale(1.2800,1)" font-size="23.00" fill="#0000ff">r</text>
<text transform="translate(463.65,249.80) scale(1.1484,1)" font-size="12.60" class="s" font-weight="bold" fill="#0000ff">max</text>
<path d="M495.10 235.80H508.30M495.10 240.60H508.30" stroke="#0000ff" stroke-width="1.50" fill="none"/>
<text transform="translate(509.88,243.60) scale(1.1367,1)" font-size="20.80" class="s" fill="#0000ff">0.15</text>
<line x1="557.70" y1="248.80" x2="571.40" y2="226.60" stroke="#0000ff" stroke-width="1.70"/>
<text transform="translate(571.73,243.60) scale(1.1143,1)" font-size="20.80" class="s" fill="#0000ff">250</text>
<text transform="translate(269.03,303.80) scale(1.1614,1)" font-size="23.50" fill="#ff0000">model</text>
<text transform="translate(350.20,303.80) scale(1.1020,1)" font-size="22.00" class="i" fill="#ff0000">#</text>
<text transform="translate(363.54,303.80) scale(1.1090,1)" font-size="20.80" class="s" fill="#ff0000">10</text>
<text transform="translate(388.58,303.80) scale(1.3906,1)" font-size="22.00" fill="#ff0000">:</text>
<text transform="translate(408.73,303.80) scale(1.2800,1)" font-size="23.00" fill="#ff0000">r</text>
<text transform="translate(419.24,310.00) scale(1.1593,1)" font-size="12.60" class="s" font-weight="bold" fill="#ff0000">min</text>
<line x1="445.60" y1="309.00" x2="459.20" y2="286.80" stroke="#ff0000" stroke-width="1.70"/>
<text transform="translate(461.23,303.80) scale(1.2800,1)" font-size="23.00" fill="#ff0000">r</text>
<text transform="translate(471.55,310.00) scale(1.1484,1)" font-size="12.60" class="s" font-weight="bold" fill="#ff0000">max</text>
<path d="M503.00 296.00H516.20M503.00 300.80H516.20" stroke="#ff0000" stroke-width="1.50" fill="none"/>
<text transform="translate(518.20,303.80) scale(1.0528,1)" font-size="20.80" class="s" fill="#ff0000">40</text>
<line x1="545.40" y1="309.00" x2="559.20" y2="286.80" stroke="#ff0000" stroke-width="1.70"/>
<text transform="translate(561.09,303.80) scale(1.0772,1)" font-size="20.80" class="s" fill="#ff0000">130</text>
<text transform="translate(274.73,598.00) scale(1.1614,1)" font-size="23.50" fill="#0000ff">model</text>
<text transform="translate(355.90,598.00) scale(1.1020,1)" font-size="22.00" class="i" fill="#0000ff">#</text>
<text transform="translate(369.28,598.00) scale(1.0859,1)" font-size="20.80" class="s" fill="#0000ff">11</text>
<text transform="translate(393.58,598.00) scale(1.3906,1)" font-size="22.00" fill="#0000ff">:</text>
<text transform="translate(414.13,598.00) scale(1.2800,1)" font-size="23.00" fill="#0000ff">r</text>
<text transform="translate(424.64,604.20) scale(1.1593,1)" font-size="12.60" class="s" font-weight="bold" fill="#0000ff">min</text>
<line x1="451.00" y1="603.20" x2="464.60" y2="581.00" stroke="#0000ff" stroke-width="1.70"/>
<text transform="translate(466.63,598.00) scale(1.2800,1)" font-size="23.00" fill="#0000ff">r</text>
<text transform="translate(476.95,604.20) scale(1.1484,1)" font-size="12.60" class="s" font-weight="bold" fill="#0000ff">max</text>
<path d="M508.40 590.20H521.60M508.40 595.00H521.60" stroke="#0000ff" stroke-width="1.50" fill="none"/>
<text transform="translate(523.18,598.00) scale(1.1367,1)" font-size="20.80" class="s" fill="#0000ff">0.15</text>
<line x1="571.00" y1="603.20" x2="584.70" y2="581.00" stroke="#0000ff" stroke-width="1.70"/>
<text transform="translate(585.03,598.00) scale(1.1143,1)" font-size="20.80" class="s" fill="#0000ff">250</text>
<text transform="translate(274.73,660.60) scale(1.1614,1)" font-size="23.50" fill="#ff0000">model</text>
<text transform="translate(355.90,660.60) scale(1.1020,1)" font-size="22.00" class="i" fill="#ff0000">#</text>
<text transform="translate(369.28,660.60) scale(1.0875,1)" font-size="20.80" class="s" fill="#ff0000">12</text>
<text transform="translate(393.58,660.60) scale(1.3906,1)" font-size="22.00" fill="#ff0000">:</text>
<text transform="translate(414.13,660.60) scale(1.2800,1)" font-size="23.00" fill="#ff0000">r</text>
<text transform="translate(424.64,666.80) scale(1.1593,1)" font-size="12.60" class="s" font-weight="bold" fill="#ff0000">min</text>
<line x1="451.00" y1="665.80" x2="464.60" y2="643.60" stroke="#ff0000" stroke-width="1.70"/>
<text transform="translate(466.63,660.60) scale(1.2800,1)" font-size="23.00" fill="#ff0000">r</text>
<text transform="translate(476.95,666.80) scale(1.1484,1)" font-size="12.60" class="s" font-weight="bold" fill="#ff0000">max</text>
<path d="M508.40 652.80H521.60M508.40 657.60H521.60" stroke="#ff0000" stroke-width="1.50" fill="none"/>
<text transform="translate(523.60,660.60) scale(1.0528,1)" font-size="20.80" class="s" fill="#ff0000">40</text>
<line x1="550.80" y1="665.80" x2="564.60" y2="643.60" stroke="#ff0000" stroke-width="1.70"/>
<text transform="translate(566.49,660.60) scale(1.0772,1)" font-size="20.80" class="s" fill="#ff0000">130</text>
<text transform="translate(404.06,274.80) scale(1.1313,1)" font-size="20.00" class="i" fill="#0000ff" stroke="#0000ff" stroke-width="0.50">β</text>
<path d="M418.50 267.00H430.50M418.50 271.80H430.50" stroke="#0000ff" stroke-width="1.50" fill="none"/>
<path d="M435.40 269.10H446.80" stroke="#0000ff" stroke-width="1.50" fill="none"/>
<text transform="translate(448.74,274.80) scale(1.1056,1)" font-size="20.80" class="s" fill="#0000ff">2.3</text>
<text transform="translate(480.33,274.80) scale(1.4000,1)" font-size="22.00" fill="#0000ff">,</text>
<text transform="translate(498.40,274.80) scale(1.1155,1)" font-size="24.00" class="i" fill="#0000ff" stroke="#0000ff" stroke-width="0.40">α</text>
<path d="M515.80 267.00H528.00M515.80 271.80H528.00" stroke="#0000ff" stroke-width="1.50" fill="none"/>
<text transform="translate(529.63,274.80) scale(1.1006,1)" font-size="20.80" class="s" fill="#0000ff">3.2</text>
<text transform="translate(404.06,337.00) scale(1.1313,1)" font-size="20.00" class="i" fill="#ff0000" stroke="#ff0000" stroke-width="0.50">β</text>
<path d="M418.50 329.20H430.50M418.50 334.00H430.50" stroke="#ff0000" stroke-width="1.50" fill="none"/>
<path d="M435.40 331.30H446.80" stroke="#ff0000" stroke-width="1.50" fill="none"/>
<text transform="translate(449.86,337.00) scale(1.1854,1)" font-size="20.80" class="s" fill="#ff0000">2.5</text>
<text transform="translate(483.53,337.00) scale(1.4000,1)" font-size="22.00" fill="#ff0000">,</text>
<text transform="translate(502.90,337.00) scale(1.1155,1)" font-size="24.00" class="i" fill="#ff0000" stroke="#ff0000" stroke-width="0.40">α</text>
<path d="M520.30 329.20H532.50M520.30 334.00H532.50" stroke="#ff0000" stroke-width="1.50" fill="none"/>
<text transform="translate(533.77,337.00) scale(1.1717,1)" font-size="20.80" class="s" fill="#ff0000">3.0</text>
<text transform="translate(415.36,629.30) scale(1.1313,1)" font-size="20.00" class="i" fill="#0000ff" stroke="#0000ff" stroke-width="0.50">β</text>
<path d="M430.80 621.50H442.80M430.80 626.30H442.80" stroke="#0000ff" stroke-width="1.50" fill="none"/>
<path d="M448.40 623.60H460.30" stroke="#0000ff" stroke-width="1.50" fill="none"/>
<text transform="translate(464.84,629.30) scale(0.9842,1)" font-size="20.80" class="s" fill="#0000ff">1.1</text>
<text transform="translate(496.43,629.30) scale(1.4000,1)" font-size="22.00" fill="#0000ff">,</text>
<text transform="translate(513.60,629.30) scale(1.1155,1)" font-size="24.00" class="i" fill="#0000ff" stroke="#0000ff" stroke-width="0.40">α</text>
<path d="M531.00 621.50H543.20M531.00 626.30H543.20" stroke="#0000ff" stroke-width="1.50" fill="none"/>
<text transform="translate(544.53,629.30) scale(1.2164,1)" font-size="20.80" class="s" fill="#0000ff">2.9</text>
<text transform="translate(415.36,691.40) scale(1.1313,1)" font-size="20.00" class="i" fill="#ff0000" stroke="#ff0000" stroke-width="0.50">β</text>
<path d="M430.80 683.60H442.80M430.80 688.40H442.80" stroke="#ff0000" stroke-width="1.50" fill="none"/>
<text transform="translate(445.64,691.40) scale(1.1577,1)" font-size="20.80" class="s" fill="#ff0000">5.2</text>
<text transform="translate(479.43,691.40) scale(1.4000,1)" font-size="22.00" fill="#ff0000">,</text>
<text transform="translate(496.90,691.40) scale(1.1155,1)" font-size="24.00" class="i" fill="#ff0000" stroke="#ff0000" stroke-width="0.40">α</text>
<path d="M514.30 683.60H526.50M514.30 688.40H526.50" stroke="#ff0000" stroke-width="1.50" fill="none"/>
<text transform="translate(528.07,691.40) scale(1.1723,1)" font-size="20.80" class="s" fill="#ff0000">2.6</text>
</svg>
</body></html>
